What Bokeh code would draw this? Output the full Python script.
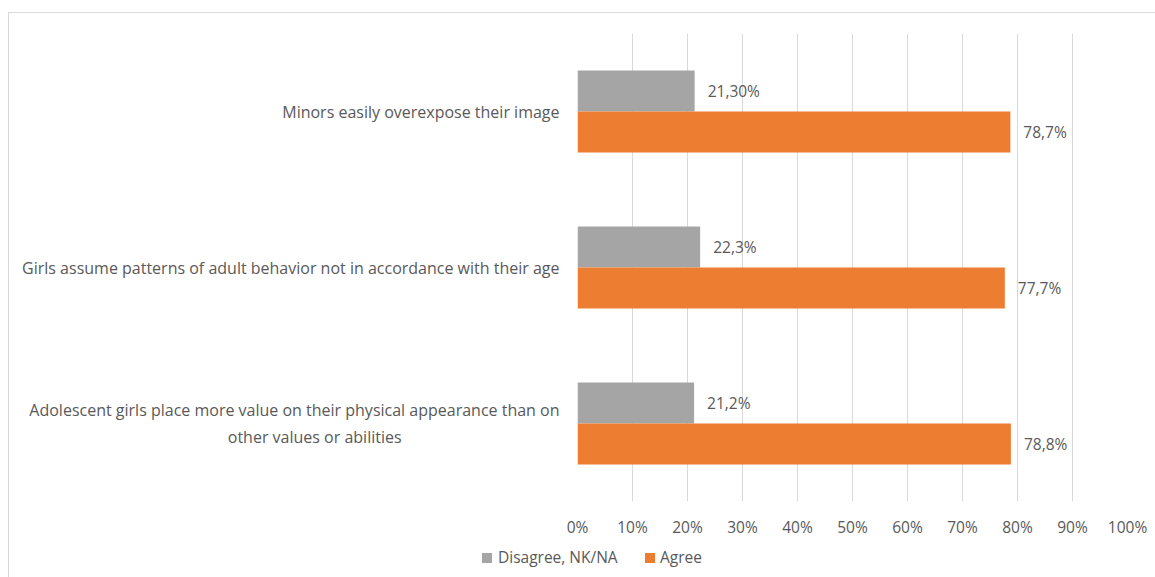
from bokeh.plotting import figure
from bokeh.models import ColumnDataSource, FixedTicker, Div
from bokeh.layouts import column
from bokeh.core.properties import value
from bokeh.embed import file_html
from bokeh.resources import INLINE

categories = [
    "Minors easily overexpose their image",
    "Girls assume patterns of adult behavior not in accordance with their age",
    "Adolescent girls place more value on their physical appearance than on\nother values or abilities",
]
disagree = [21.3, 22.3, 21.2]
agree = [78.7, 77.7, 78.8]
disagree_labels = ["21,30%", "22,3%", "21,2%"]
agree_labels = ["78,7%", "77,7%", "78,8%"]
series_names = ["Disagree, NK/NA", "Agree"]
x_ticks = [0, 10, 20, 30, 40, 50, 60, 70, 80, 90, 100]
x_tick_labels = [f"{t}%" for t in x_ticks]

FONT = "Open Sans"
FS = "15.5px"
TXT = "#595959"
GRAY = "#A5A5A5"
ORANGE = "#ED7D31"
series_colors = [GRAY, ORANGE]

n = len(categories)
pos = [n - 0.5 - i for i in range(n)]
bar_h = 0.263
gray_y = [p + bar_h / 2 for p in pos]
orange_y = [p - bar_h / 2 for p in pos]

# centre the short second line of wrapped labels under the first (axis labels are right-justified)
def centre_lines(label):
    lines = label.split("\n")
    if len(lines) == 1:
        return label
    longest = max(len(l) for l in lines)
    return "\n".join(l + "\u00a0" * int((longest - len(l)) * 0.85) for l in lines)

p = figure(width=1146, height=530, x_range=(0, 100), y_range=(0, n),
           output_backend="svg", toolbar_location=None,
           min_border_left=568, min_border_right=28, min_border_top=20, min_border_bottom=42)
p.outline_line_color = None

src_d = ColumnDataSource(dict(y=gray_y, v=disagree, lab=disagree_labels))
src_a = ColumnDataSource(dict(y=orange_y, v=agree, lab=agree_labels))

p.hbar(y="y", right="v", left=0, height=bar_h, source=src_d, fill_color=GRAY, line_color=None)
p.hbar(y="y", right="v", left=0, height=bar_h, source=src_a, fill_color=ORANGE, line_color=None)

for src in (src_d, src_a):
    p.text(x="v", y="y", text="lab", source=src, x_offset=13, text_baseline="middle",
           text_align="left", text_font=value(FONT), text_font_size=FS, text_color=TXT)

p.xaxis.ticker = FixedTicker(ticks=x_ticks)
p.xaxis.major_label_overrides = {t: l for t, l in zip(x_ticks, x_tick_labels)}
p.xaxis.axis_line_color = None
p.xaxis.major_tick_line_color = None
p.xaxis.minor_tick_line_color = None
p.xaxis.major_label_standoff = 8
p.xaxis.major_label_text_font = FONT
p.xaxis.major_label_text_font_size = FS
p.xaxis.major_label_text_color = TXT

p.yaxis.ticker = FixedTicker(ticks=pos)
p.yaxis.major_label_overrides = {pp: centre_lines(c) for pp, c in zip(pos, categories)}
p.yaxis.axis_line_color = None
p.yaxis.major_tick_line_color = None
p.yaxis.minor_tick_line_color = None
p.yaxis.major_label_standoff = 12
p.yaxis.major_label_text_font = FONT
p.yaxis.major_label_text_font_size = "16px"
p.yaxis.major_label_text_color = TXT

p.ygrid.grid_line_color = None
p.xgrid.grid_line_color = "#D9D9D9"
p.xgrid.grid_line_width = 1

# legend strip below the chart
sq_left = [473, 636]
txt_left = [489, 651]
items = "".join(
    f'<span style="position:absolute;left:{sl}px;top:10px;width:10px;height:10px;background:{c};"></span>'
    f'<span style="position:absolute;left:{tl}px;top:4px;white-space:nowrap;">{name}</span>'
    for sl, tl, c, name in zip(sq_left, txt_left, series_colors, series_names)
)
legend_div = Div(
    text=f'<div style="position:relative;width:1146px;height:34px;font-family:\'{FONT}\';'
         f'font-size:{FS};line-height:21px;color:{TXT};">{items}</div>',
    width=1146, height=34, margin=0)

layout = column(p, legend_div, spacing=0)
layout.margin = (12, 0, 0, 8)
layout.styles = {"border-top": "1px solid #D9D9D9", "border-left": "1px solid #D9D9D9"}

open("out.html", "w").write(file_html(layout, INLINE))
